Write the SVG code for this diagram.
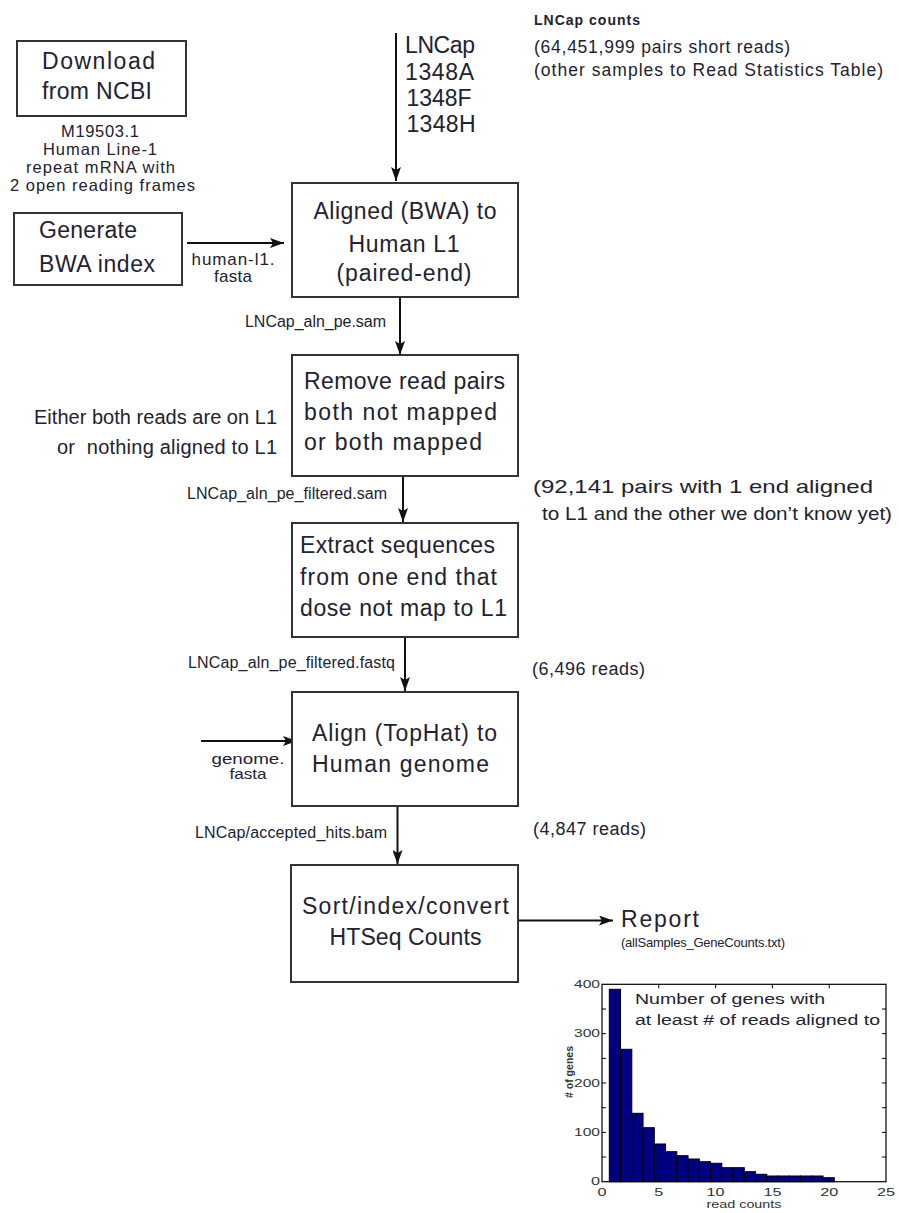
<svg xmlns="http://www.w3.org/2000/svg" width="899" height="1213" viewBox="0 0 899 1213">
<style>
.box{fill:#fff;stroke:#333;stroke-width:2}
.t{font-family:"Liberation Sans",Arial,sans-serif;fill:#222230}
.big{font-size:23px}
.mid{font-size:20px}
.note{font-size:18px}
.sm{font-size:16px}
.conn{stroke:#111;stroke-width:2;fill:none}
.ax{font-family:"Liberation Sans",Arial,sans-serif;fill:#333;font-size:10px}
.bar{fill:#000080;stroke:#000;stroke-width:1}
.frame{fill:none;stroke:#000;stroke-width:1.2}
.tick{stroke:#000;stroke-width:1}
</style>
<defs>
<marker id="ah" markerUnits="userSpaceOnUse" markerWidth="14" markerHeight="10" refX="14" refY="5" orient="auto">
<path d="M0,0 L14,5 L0,10 L3,5 z" fill="#111"/>
</marker>
</defs>
<rect width="899" height="1213" fill="#fff"/>

<g id="connectors">
<line class="conn" x1="396" y1="33" x2="396" y2="181" marker-end="url(#ah)"/>
<line class="conn" x1="400" y1="297" x2="400" y2="355" marker-end="url(#ah)"/>
<line class="conn" x1="403" y1="476" x2="403" y2="522" marker-end="url(#ah)"/>
<line class="conn" x1="405" y1="637" x2="405" y2="691" marker-end="url(#ah)"/>
<line class="conn" x1="397.5" y1="807" x2="397.5" y2="864" marker-end="url(#ah)"/>
<line class="conn" x1="187" y1="243" x2="284" y2="243" marker-end="url(#ah)"/>
<line class="conn" x1="201" y1="741" x2="297" y2="741" marker-end="url(#ah)"/>
<line class="conn" x1="518" y1="920.5" x2="613" y2="920.5" marker-end="url(#ah)"/>
<text class="t" font-size="17" x="233" y="265" text-anchor="middle" textLength="83">human-l1.</text>
<text class="t" font-size="17" x="233" y="282" text-anchor="middle" textLength="38">fasta</text>
<text class="t" font-size="15" x="248" y="764" text-anchor="middle" textLength="73" lengthAdjust="spacingAndGlyphs">genome.</text>
<text class="t" font-size="15" x="248" y="779" text-anchor="middle" textLength="37" lengthAdjust="spacingAndGlyphs">fasta</text>
<text class="t sm" x="245" y="327" textLength="141">LNCap_aln_pe.sam</text>
<text class="t sm" x="187" y="499" textLength="200">LNCap_aln_pe_filtered.sam</text>
<text class="t sm" x="188" y="668" textLength="207">LNCap_aln_pe_filtered.fastq</text>
<text class="t sm" x="195" y="838" textLength="192">LNCap/accepted_hits.bam</text>
</g>

<g id="download">
<rect class="box" x="17" y="41" width="169" height="75"/>
<text class="t big" x="42" y="69" textLength="113">Download</text>
<text class="t big" x="42" y="99" textLength="110">from NCBI</text>
</g>
<g id="ncbi-note">
<text class="t" font-size="16.5" x="100" y="137" text-anchor="middle" textLength="78">M19503.1</text>
<text class="t" font-size="16.5" x="100" y="155" text-anchor="middle" textLength="114">Human Line-1</text>
<text class="t" font-size="16.5" x="100.5" y="173" text-anchor="middle" textLength="149">repeat mRNA with</text>
<text class="t" font-size="16.5" x="102.5" y="191" text-anchor="middle" textLength="185">2 open reading frames</text>
</g>

<g id="generate">
<rect class="box" x="14" y="213" width="168" height="72"/>
<text class="t big" x="39" y="238" textLength="98">Generate</text>
<text class="t big" x="39" y="272" textLength="116">BWA index</text>
</g>

<g id="samples">
<text class="t big" x="405" y="53" textLength="70">LNCap</text>
<text class="t big" x="405" y="80" textLength="69">1348A</text>
<text class="t big" x="406.5" y="106" textLength="65">1348F</text>
<text class="t big" x="406.5" y="132" textLength="69">1348H</text>
</g>

<g id="counts-note">
<text class="t" x="534" y="25" font-size="14" font-weight="bold" textLength="106">LNCap counts</text>
<text class="t" font-size="17.5" x="534" y="53" textLength="256">(64,451,999 pairs short reads)</text>
<text class="t" font-size="17.5" x="534" y="76" textLength="349">(other samples to Read Statistics Table)</text>
</g>

<g id="aligned">
<rect class="box" x="292" y="183" width="226" height="114"/>
<text class="t big" x="405" y="219" text-anchor="middle" textLength="183">Aligned (BWA) to</text>
<text class="t big" x="404" y="252" text-anchor="middle" textLength="111">Human L1</text>
<text class="t big" x="404" y="281" text-anchor="middle" textLength="135">(paired-end)</text>
</g>

<g id="remove">
<rect class="box" x="292" y="355" width="226" height="121"/>
<text class="t big" x="304" y="389" textLength="201">Remove read pairs</text>
<text class="t big" x="304" y="420" textLength="193">both not mapped</text>
<text class="t big" x="304" y="450" textLength="178">or both mapped</text>
</g>
<g id="remove-note">
<text class="t mid" x="277" y="424" text-anchor="end" textLength="243">Either both reads are on L1</text>
<text class="t mid" x="277" y="454" text-anchor="end" textLength="220" xml:space="preserve">or  nothing aligned to L1</text>
</g>

<g id="pairs-note">
<text class="t" font-size="19" x="533" y="493" textLength="340" lengthAdjust="spacingAndGlyphs">(92,141 pairs with 1 end aligned</text>
<text class="t" font-size="19" x="542" y="520" textLength="350" lengthAdjust="spacingAndGlyphs">to L1 and the other we don’t know yet)</text>
</g>

<g id="extract">
<rect class="box" x="292" y="523" width="226" height="114"/>
<text class="t big" x="300" y="553" textLength="195">Extract sequences</text>
<text class="t big" x="300" y="585" textLength="197">from one end that</text>
<text class="t big" x="300" y="616" textLength="207">dose not map to L1</text>
</g>

<g id="reads-note-1">
<text class="t note" x="532" y="675" textLength="113">(6,496 reads)</text>
</g>

<g id="align">
<rect class="box" x="292" y="692" width="226" height="114"/>
<text class="t big" x="312" y="741" textLength="185">Align (TopHat) to</text>
<text class="t big" x="312" y="772" textLength="177">Human genome</text>
</g>

<g id="reads-note-2">
<text class="t note" x="533" y="835" textLength="113">(4,847 reads)</text>
</g>

<g id="sort">
<rect class="box" x="291" y="865" width="227" height="117"/>
<text class="t big" x="405.5" y="914" text-anchor="middle" textLength="207">Sort/index/convert</text>
<text class="t big" x="405.5" y="945" text-anchor="middle" textLength="152">HTSeq Counts</text>
</g>

<g id="report">
<text class="t big" x="621" y="927" textLength="78">Report</text>
<text class="t" x="621" y="947" font-size="13" textLength="164">(allSamples_GeneCounts.txt)</text>
</g>

<g id="chart">
<rect class="bar" x="609.3" y="989.3" width="11.25" height="192.4"/>
<rect class="bar" x="620.55" y="1049.3" width="11.25" height="132.4"/>
<rect class="bar" x="631.8" y="1113.3" width="11.25" height="68.4"/>
<rect class="bar" x="643.05" y="1127.7" width="11.25" height="54"/>
<rect class="bar" x="654.3" y="1144" width="11.25" height="37.7"/>
<rect class="bar" x="665.55" y="1151.7" width="11.25" height="30"/>
<rect class="bar" x="676.8" y="1155.7" width="11.25" height="26"/>
<rect class="bar" x="688.05" y="1159" width="11.25" height="22.7"/>
<rect class="bar" x="699.3" y="1161.7" width="11.25" height="20"/>
<rect class="bar" x="710.55" y="1163.3" width="11.25" height="18.4"/>
<rect class="bar" x="721.8" y="1167.7" width="11.25" height="14"/>
<rect class="bar" x="733.05" y="1167.7" width="11.25" height="14"/>
<rect class="bar" x="744.3" y="1171.7" width="11.25" height="10"/>
<rect class="bar" x="755.55" y="1174.3" width="11.25" height="7.4"/>
<rect class="bar" x="766.8" y="1176" width="11.25" height="5.7"/>
<rect class="bar" x="778.05" y="1176" width="11.25" height="5.7"/>
<rect class="bar" x="789.3" y="1176" width="11.25" height="5.7"/>
<rect class="bar" x="800.55" y="1176" width="11.25" height="5.7"/>
<rect class="bar" x="811.8" y="1176" width="11.25" height="5.7"/>
<rect class="bar" x="823.05" y="1177.7" width="11.25" height="4"/>
<rect class="frame" x="602" y="984.3" width="284" height="197.4"/>
<path class="tick" d="M602,1157h4M602,1132.4h4M602,1107.7h4M602,1083h4M602,1058.4h4M602,1033.6h4M602,1009h4M886,1157h-4M886,1132.4h-4M886,1107.7h-4M886,1083h-4M886,1058.4h-4M886,1033.6h-4M886,1009h-4M658.8,984.3v4M715.6,984.3v4M772.4,984.3v4M829.2,984.3v4M658.8,1181.7v-4M715.6,1181.7v-4M772.4,1181.7v-4M829.2,1181.7v-4"/>
<text class="ax" x="600" y="988" text-anchor="end" textLength="26" lengthAdjust="spacingAndGlyphs">400</text>
<text class="ax" x="600" y="1037" text-anchor="end" textLength="26" lengthAdjust="spacingAndGlyphs">300</text>
<text class="ax" x="600" y="1087" text-anchor="end" textLength="26" lengthAdjust="spacingAndGlyphs">200</text>
<text class="ax" x="600" y="1136" text-anchor="end" textLength="26" lengthAdjust="spacingAndGlyphs">100</text>
<text class="ax" x="600" y="1185" text-anchor="end" textLength="9" lengthAdjust="spacingAndGlyphs">0</text>
<text class="ax" x="602" y="1196" text-anchor="middle" textLength="9" lengthAdjust="spacingAndGlyphs">0</text>
<text class="ax" x="658.8" y="1196" text-anchor="middle" textLength="9" lengthAdjust="spacingAndGlyphs">5</text>
<text class="ax" x="715.6" y="1196" text-anchor="middle" textLength="18" lengthAdjust="spacingAndGlyphs">10</text>
<text class="ax" x="772.4" y="1196" text-anchor="middle" textLength="18" lengthAdjust="spacingAndGlyphs">15</text>
<text class="ax" x="829.2" y="1196" text-anchor="middle" textLength="18" lengthAdjust="spacingAndGlyphs">20</text>
<text class="ax" x="886" y="1196" text-anchor="middle" textLength="18" lengthAdjust="spacingAndGlyphs">25</text>
<text class="ax" x="744" y="1208" text-anchor="middle" textLength="75" lengthAdjust="spacingAndGlyphs">read counts</text>
<text class="ax" x="0" y="0" text-anchor="middle" font-weight="bold" font-size="9" transform="translate(573,1072) rotate(-90)" textLength="52" lengthAdjust="spacingAndGlyphs"># of genes</text>
<text class="t" x="635" y="1004" font-size="14" textLength="190" lengthAdjust="spacingAndGlyphs">Number of genes with</text>
<text class="t" x="635" y="1025" font-size="14" textLength="245" lengthAdjust="spacingAndGlyphs">at least # of reads aligned to</text>
</g>
</svg>
